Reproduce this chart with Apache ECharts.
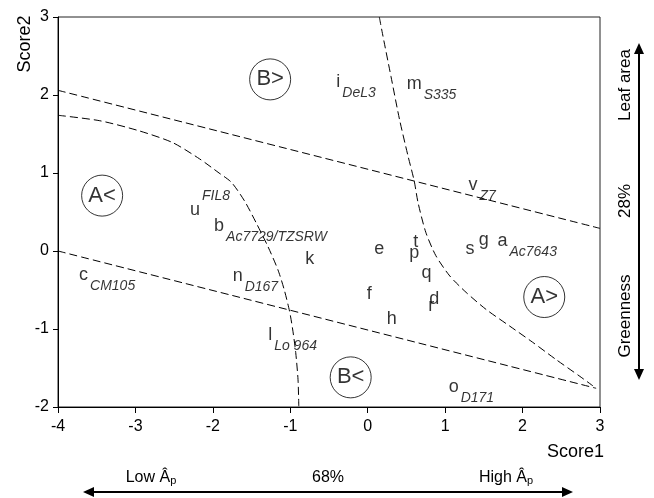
<!DOCTYPE html>
<html>
<head>
<meta charset="utf-8">
<script src="https://cdn.jsdelivr.net/npm/echarts@6/dist/echarts.min.js"></script>
<style>html,body{margin:0;padding:0;background:#fff}#c{width:654px;height:498px}</style>
</head>
<body>
<div id="c"></div>
<script>
// ---- data ----
const letters = ['a','b','c','d','e','f','g','h','i','k','l','m','n','o','p','q','r','s','t','u','v'];
const score1  = [1.74,-1.92,-3.67,0.86,0.15,0.02,1.50,0.31,-0.38,-0.75,-1.26,0.60,-1.68,1.11,0.60,0.76,0.82,1.32,0.62,-2.23,1.36];
const score2  = [0.13,0.32,-0.31,-0.62,0.03,-0.55,0.14,-0.87,2.17,-0.10,-1.08,2.14,-0.32,-1.75,-0.02,-0.28,-0.70,0.02,0.12,0.52,0.85];
const tags    = ['Ac7643','Ac7729/TZSRW','CM105','','','','','','DeL3','','Lo 964','S335','D167','D171','','','','','','FIL8','Z7'];
const tagKind = ['sub','sub','sub','','','','','','sub','','sub','sub','sub','sub','','','','','','sup','sub'];

const regionNames = ['B>','A<','A>','B<'];
const regionX = [-1.26,-3.43,2.28,-0.22];
const regionY = [2.20,0.71,-0.59,-1.62];

const upperLineX = [-4, 3];
const upperLineY = [2.06, 0.29];
const lowerLineX = [-4, 2.95];
const lowerLineY = [0, -1.76];
const leftCurveX = [-4,-3.46,-2.95,-2.52,-2.17,-1.92,-1.76,-1.59,-1.44,-1.29,-1.16,-1.08,-1.01,-0.97,-0.93,-0.90,-0.89];
const leftCurveY = [1.74,1.67,1.54,1.39,1.18,1.0,0.88,0.64,0.36,0.06,-0.24,-0.49,-0.77,-1.0,-1.30,-1.65,-1.99];
const rightCurveX = [0.15,0.19,0.30,0.41,0.52,0.60,0.65,0.75,0.88,1.06,1.27,1.53,1.83,2.13,2.43,2.73,2.91];
const rightCurveY = [3.0,2.79,2.24,1.69,1.22,0.90,0.62,0.24,-0.06,-0.32,-0.53,-0.75,-0.96,-1.17,-1.39,-1.60,-1.73];

const xMin = -4, xMax = 3, yMin = -2, yMax = 3, tickStep = 1;

// ---- build ----
const FONT = '"Liberation Sans", Arial, Helvetica, sans-serif';
const zip = (xs, ys) => xs.map((x, i) => [x, ys[i]]);
const mctx = document.createElement('canvas').getContext('2d');
mctx.font = '18px "Liberation Sans"';

const letterData = letters.map((l, i) => ({ value: [score1[i], score2[i]], name: l }));
const tagData = [];
letters.forEach((l, i) => {
  if (!tags[i]) return;
  const w = mctx.measureText(l).width;
  tagData.push({
    value: [score1[i], score2[i]], name: tags[i],
    label: { offset: [w / 2 + 2, tagKind[i] === 'sup' ? -14 : 11] }
  });
});
const regionData = regionNames.map((n, i) => ({ value: [regionX[i], regionY[i]], name: n }));

function dashLine(xs, ys) {
  return {
    type: 'line', data: zip(xs, ys), symbol: 'none', smooth: 0.25, silent: true, z: 1,
    lineStyle: { color: '#000', width: 1, type: [8, 4] }
  };
}

const chart = echarts.init(document.getElementById('c'), null, { renderer: 'canvas' });
chart.setOption({
  animation: false,
  backgroundColor: '#fff',
  grid: { left: 58, right: 54, top: 17, bottom: 91, show: true, borderColor: '#222', borderWidth: 1, backgroundColor: 'transparent' },
  xAxis: {
    type: 'value', min: xMin, max: xMax, interval: tickStep,
    axisLine: { show: true, onZero: false, lineStyle: { color: '#000', width: 1 } },
    axisTick: { show: true, length: 6, lineStyle: { color: '#000' } },
    axisLabel: { color: '#000', fontSize: 16, fontFamily: FONT, margin: 12 },
    splitLine: { show: false }
  },
  yAxis: {
    type: 'value', min: yMin, max: yMax, interval: tickStep,
    axisLine: { show: true, onZero: false, lineStyle: { color: '#000', width: 1 } },
    axisTick: { show: true, length: 5, lineStyle: { color: '#000' } },
    axisLabel: { color: '#000', fontSize: 16, fontFamily: FONT, margin: 9 },
    splitLine: { show: false }
  },
  series: [
    dashLine(upperLineX, upperLineY),
    dashLine(lowerLineX, lowerLineY),
    dashLine(leftCurveX, leftCurveY),
    dashLine(rightCurveX, rightCurveY),
    {
      type: 'scatter', data: regionData, symbol: 'circle', symbolSize: 41, z: 3, silent: true,
      itemStyle: { color: '#fff', borderColor: '#000', borderWidth: 1 },
      label: { show: true, position: 'inside', formatter: p => p.name, color: '#000', fontSize: 22, fontFamily: FONT }
    },
    {
      type: 'scatter', data: letterData, symbolSize: 1, z: 4, silent: true,
      itemStyle: { color: 'rgba(0,0,0,0)' },
      label: { show: true, position: 'inside', formatter: p => p.name, color: '#000', fontSize: 18, fontFamily: FONT, align: 'center', verticalAlign: 'middle' }
    },
    {
      type: 'scatter', data: tagData, symbolSize: 1, z: 4, silent: true,
      itemStyle: { color: 'rgba(0,0,0,0)' },
      label: { show: true, position: 'inside', formatter: p => p.name, color: '#000', fontSize: 14, fontStyle: 'italic', fontFamily: FONT, align: 'left', verticalAlign: 'middle' }
    }
  ],
  graphic: [
    { type: 'text', x: 25, y: 44, rotation: Math.PI / 2, style: { text: 'Score2', font: '18px ' + FONT, fill: '#000', align: 'center', verticalAlign: 'middle' } },
    { type: 'text', x: 604, y: 452, style: { text: 'Score1', font: '18px ' + FONT, fill: '#000', align: 'right', verticalAlign: 'middle' } },
    // bottom arrow
    { type: 'line', shape: { x1: 90, y1: 492, x2: 566, y2: 492 }, style: { stroke: '#000', lineWidth: 2 } },
    { type: 'polygon', shape: { points: [[83, 492], [94, 487], [94, 497]] }, style: { fill: '#000' } },
    { type: 'polygon', shape: { points: [[573, 492], [562, 487], [562, 497]] }, style: { fill: '#000' } },
    { type: 'text', x: 151, y: 478, style: { text: '{a|Low Â}{b|p}', fill: '#000', align: 'center', verticalAlign: 'middle', rich: { a: { fontSize: 16, fontFamily: FONT, fill: '#000' }, b: { fontSize: 11, fontFamily: FONT, fill: '#000', verticalAlign: 'bottom' } } } },
    { type: 'text', x: 328, y: 478, style: { text: '68%', font: '16px ' + FONT, fill: '#000', align: 'center', verticalAlign: 'middle' } },
    { type: 'text', x: 506, y: 478, style: { text: '{a|High Â}{b|p}', fill: '#000', align: 'center', verticalAlign: 'middle', rich: { a: { fontSize: 16, fontFamily: FONT, fill: '#000' }, b: { fontSize: 11, fontFamily: FONT, fill: '#000', verticalAlign: 'bottom' } } } },
    // right arrow
    { type: 'line', shape: { x1: 639, y1: 50, x2: 639, y2: 373 }, style: { stroke: '#000', lineWidth: 2 } },
    { type: 'polygon', shape: { points: [[639, 43], [634, 54], [644, 54]] }, style: { fill: '#000' } },
    { type: 'polygon', shape: { points: [[639, 380], [634, 369], [644, 369]] }, style: { fill: '#000' } },
    { type: 'text', x: 625, y: 85, rotation: Math.PI / 2, style: { text: 'Leaf area', font: '17px ' + FONT, fill: '#000', align: 'center', verticalAlign: 'middle' } },
    { type: 'text', x: 625, y: 201, rotation: Math.PI / 2, style: { text: '28%', font: '17px ' + FONT, fill: '#000', align: 'center', verticalAlign: 'middle' } },
    { type: 'text', x: 625, y: 316, rotation: Math.PI / 2, style: { text: 'Greenness', font: '17px ' + FONT, fill: '#000', align: 'center', verticalAlign: 'middle' } }
  ]
});
</script>
</body>
</html>
